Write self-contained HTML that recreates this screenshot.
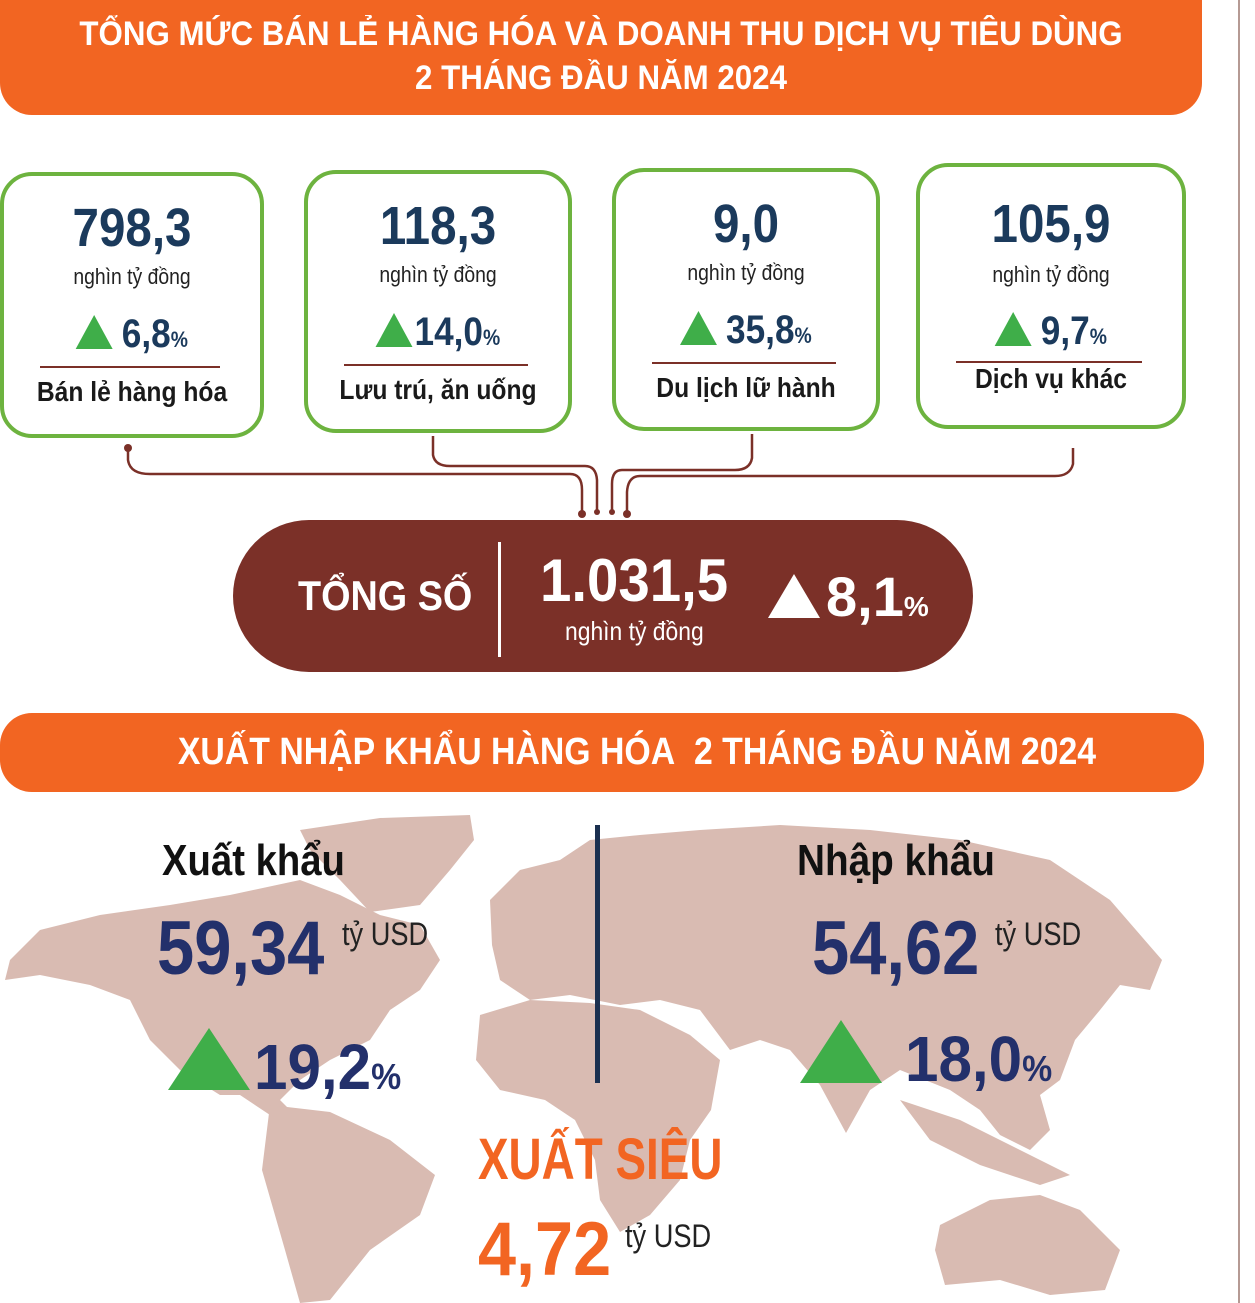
<!DOCTYPE html>
<html><head><meta charset="utf-8"><style>
body{margin:0;width:1255px;height:1303px;background:#fff;position:relative;overflow:hidden;font-family:"Liberation Sans",sans-serif}
.a{position:absolute;white-space:nowrap;transform-origin:0 0}
.hdr{position:absolute;background:#f26522;color:#fff;font-weight:bold;text-align:center}
.c{display:block;transform-origin:50% 50%}
.card{position:absolute;border:4px solid #6db33f;border-radius:32px;background:#fff;box-sizing:border-box}
.card>div{transform:scaleX(0.88);transform-origin:50% 50%}
.card .n{position:absolute;left:0;right:0;top:22px;text-align:center;font-size:54px;font-weight:bold;color:#1b3a5c;line-height:60px}
.card .u{position:absolute;left:0;right:0;top:88px;text-align:center;font-size:22px;color:#222}
.card .p{position:absolute;left:0;right:0;top:136px;text-align:center;font-size:40px;font-weight:bold;color:#1b3a5c;line-height:44px}
.card .p small{font-size:22px}
.tri{display:inline-block;width:0;height:0;border-left:21px solid transparent;border-right:21px solid transparent;border-bottom:34px solid #3fae49;margin-right:10px;vertical-align:-2px}
.card .hr{position:absolute;left:36px;right:40px;top:190px;border-top:2px solid #7b3028;transform:none!important}
.card .l{position:absolute;left:0;right:0;top:200px;text-align:center;font-size:28px;font-weight:bold;color:#1a1a1a}
</style></head><body>
<div class="hdr" style="left:0;top:0;width:1202px;height:115px;border-radius:0 0 32px 32px;font-size:34px;line-height:44px;padding-top:12px;box-sizing:border-box"><span class="c" style="transform:scaleX(0.92)">TỔNG MỨC BÁN LẺ HÀNG HÓA VÀ DOANH THU DỊCH VỤ TIÊU DÙNG</span><span class="c" style="transform:scaleX(0.92)">2 THÁNG ĐẦU NĂM 2024</span></div>
<div style="position:absolute;left:1238px;top:0;width:2px;height:1303px;background:#b59a94"></div>

<div class="card" style="left:0;top:172px;width:264px;height:266px"><div class="n">798,3</div><div class="u">nghìn tỷ đồng</div><div class="p"><span class="tri"></span>6,8<small>%</small></div><div class="hr"></div><div class="l">Bán lẻ hàng hóa</div></div>
<div class="card" style="left:304px;top:170px;width:268px;height:263px"><div class="n">118,3</div><div class="u">nghìn tỷ đồng</div><div class="p"><span class="tri" style="margin-right:2px"></span>14,0<small>%</small></div><div class="hr"></div><div class="l">Lưu trú, ăn uống</div></div>
<div class="card" style="left:612px;top:168px;width:268px;height:263px"><div class="n">9,0</div><div class="u">nghìn tỷ đồng</div><div class="p"><span class="tri"></span>35,8<small>%</small></div><div class="hr"></div><div class="l">Du lịch lữ hành</div></div>
<div class="card" style="left:916px;top:163px;width:270px;height:266px"><div class="n" style="top:27px">105,9</div><div class="u" style="top:95px">nghìn tỷ đồng</div><div class="p" style="top:142px"><span class="tri"></span>9,7<small>%</small></div><div class="hr" style="top:194px"></div><div class="l" style="top:196px">Dịch vụ khác</div></div>

<svg class="a" style="left:0;top:0" width="1255" height="540">
<g fill="none" stroke="#7b3028" stroke-width="2.5">
<path d="M128 448 V460 Q130 474 150 474 H570 Q582 474 582 490 V514"/>
<path d="M433 436 V455 Q435 466 450 466 H585 Q596 466 597 480 V512"/>
<path d="M752 434 V458 Q750 470 735 470 H622 Q612 470 612 484 V512"/>
<path d="M1073 448 V464 Q1070 476 1055 476 H640 Q628 476 627 492 V514"/>
</g>
<g fill="#7b3028"><circle cx="128" cy="448" r="4"/><circle cx="582" cy="514" r="4"/><circle cx="597" cy="512" r="3"/><circle cx="612" cy="512" r="3"/><circle cx="627" cy="514" r="4"/></g>
</svg>

<div class="a" style="left:233px;top:520px;width:740px;height:152px;border-radius:76px;background:#7b3028"></div>
<div class="a" style="left:298px;top:572px;font-size:42px;font-weight:bold;color:#fff;transform:scaleX(0.9)">TỔNG SỐ</div>
<div class="a" style="left:498px;top:542px;width:3px;height:115px;background:#fff"></div>
<div class="a" style="left:540px;top:546px;font-size:60px;font-weight:bold;color:#fff;transform:scaleX(0.94)">1.031,5</div>
<div class="a" style="left:565px;top:616px;font-size:26px;color:#fff;transform:scaleX(0.88)">nghìn tỷ đồng</div>
<div class="a" style="left:768px;top:574px;width:0;height:0;border-left:26px solid transparent;border-right:26px solid transparent;border-bottom:44px solid #fff"></div>
<div class="a" style="left:826px;top:564px;font-size:56px;font-weight:bold;color:#fff">8,1<span style="font-size:28px">%</span></div>

<div class="hdr" style="left:0;top:713px;width:1204px;height:79px;border-radius:32px;font-size:38px;line-height:79px;padding-left:70px;box-sizing:border-box"><span class="c" style="transform:scaleX(0.89)">XUẤT NHẬP KHẨU HÀNG HÓA&nbsp; 2 THÁNG ĐẦU NĂM 2024</span></div>

<svg class="a" style="left:0;top:0" width="1240" height="1303">
<g fill="#d9bbb2">
<path d="M300 830 L380 818 L470 815 L474 840 L450 870 L420 905 L370 912 L340 880 L310 850Z"/>
<path d="M10 960 L40 930 L100 915 L170 905 L230 895 L300 880 L340 895 L380 915 L420 925 L440 960 L420 990 L390 1010 L370 1040 L330 1060 L300 1080 L280 1100 L300 1120 L320 1130 L300 1135 L270 1115 L240 1095 L220 1095 L180 1070 L150 1040 L130 1000 L90 985 L40 975 L5 980Z"/>
<path d="M270 1105 L330 1112 L390 1140 L435 1175 L420 1215 L370 1250 L330 1300 L300 1303 L285 1250 L262 1170Z"/>
<path d="M490 900 L520 870 L560 860 L590 840 L640 835 L700 830 L780 825 L870 830 L960 840 L1050 860 L1110 900 L1162 960 L1150 990 L1120 985 L1100 1010 L1075 1040 L1060 1080 L1040 1095 L1050 1130 L1030 1150 L1000 1135 L980 1110 L950 1090 L900 1070 L870 1090 L846 1133 L820 1085 L790 1050 L760 1040 L730 1050 L700 1010 L660 1000 L620 1005 L570 995 L530 1000 L500 980 L492 945Z"/>
<path d="M480 1015 L530 1000 L590 1003 L640 1010 L690 1035 L720 1060 L711 1110 L690 1140 L680 1180 L650 1215 L620 1232 L600 1200 L595 1160 L575 1120 L545 1100 L500 1090 L476 1060Z"/>
<path d="M900 1100 L960 1120 L1020 1150 L1070 1175 L1040 1185 L980 1165 L930 1140Z"/>
<path d="M940 1225 L990 1200 L1040 1195 L1080 1210 L1120 1250 L1105 1290 L1050 1295 L1000 1280 L945 1285 L935 1250Z"/>
</g>
</svg>
<div class="a" style="left:595px;top:825px;width:5px;height:258px;background:#1b3050"></div>

<div class="a" style="left:162px;top:836px;font-size:44px;font-weight:bold;color:#111;transform:scaleX(0.87)">Xuất khẩu</div>
<div class="a" style="left:157px;top:905px;font-size:76px;font-weight:bold;color:#23306b;transform:scaleX(0.88)">59,34</div>
<div class="a" style="left:342px;top:916px;font-size:32px;color:#222;transform:scaleX(0.85)">tỷ USD</div>
<div class="a" style="left:168px;top:1028px;width:0;height:0;border-left:41px solid transparent;border-right:41px solid transparent;border-bottom:62px solid #3fae49"></div>
<div class="a" style="left:254px;top:1030px;font-size:64px;font-weight:bold;color:#23306b;transform:scaleX(0.94)">19,2<span style="font-size:36px">%</span></div>

<div class="a" style="left:797px;top:836px;font-size:44px;font-weight:bold;color:#111;transform:scaleX(0.88)">Nhập khẩu</div>
<div class="a" style="left:812px;top:905px;font-size:76px;font-weight:bold;color:#23306b;transform:scaleX(0.88)">54,62</div>
<div class="a" style="left:995px;top:916px;font-size:32px;color:#222;transform:scaleX(0.85)">tỷ USD</div>
<div class="a" style="left:800px;top:1020px;width:0;height:0;border-left:41px solid transparent;border-right:41px solid transparent;border-bottom:63px solid #3fae49"></div>
<div class="a" style="left:905px;top:1022px;font-size:64px;font-weight:bold;color:#23306b;transform:scaleX(0.94)">18,0<span style="font-size:36px">%</span></div>

<div class="a" style="left:478px;top:1126px;font-size:58px;font-weight:bold;color:#f26522;transform:scaleX(0.79)">XUẤT SIÊU</div>
<div class="a" style="left:478px;top:1206px;font-size:76px;font-weight:bold;color:#f26522;transform:scaleX(0.9)">4,72</div>
<div class="a" style="left:625px;top:1218px;font-size:32px;color:#222;transform:scaleX(0.85)">tỷ USD</div>
</body></html>
